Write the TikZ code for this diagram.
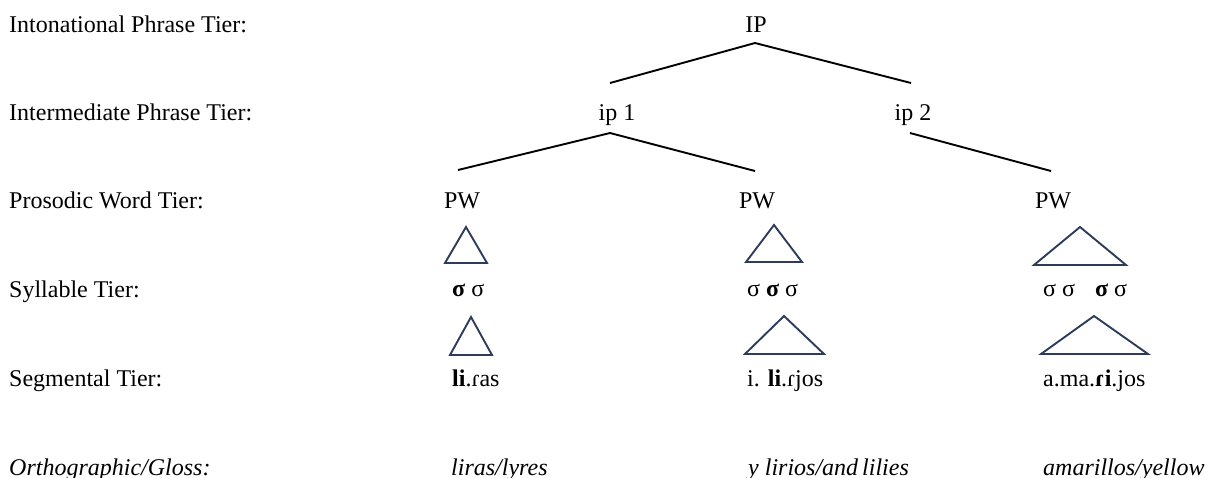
\documentclass[tikz,border=0pt]{standalone}
\usepackage{fontspec}
\setmainfont{Liberation Serif}
\begin{document}
\begin{tikzpicture}[x=1pt,y=-1pt,
  lbl/.style={anchor=base west,inner sep=0pt,font=\fontsize{24}{28}\selectfont},
  cat/.style={anchor=base,inner sep=0pt,font=\fontsize{24}{28}\selectfont},
  branch/.style={line width=1.9pt,black},
  tri/.style={line width=1.9pt,draw=trinavy,line join=miter}]
\definecolor{trinavy}{RGB}{44,60,90}
\useasboundingbox (0,0) rectangle (1209,477);

% tier labels
\node[lbl] (tIP)  at (9,32)  {Intonational Phrase Tier:};
\node[lbl] (tip)  at (9,120) {Intermediate Phrase Tier:};
\node[lbl] (tPW)  at (9,208) {Prosodic Word Tier:};
\node[lbl] (tsyl) at (9,297) {Syllable Tier:};
\node[lbl] (tseg) at (9,386) {Segmental Tier:};
\node[lbl] (tort) at (9,475) {\itshape Orthographic/Gloss:};

% prosodic tree
\node[cat] (IP)  at (756,32)  {IP};
\node[cat] (ip1) at (617,120) {ip 1};
\node[cat] (ip2) at (913,120) {ip 2};
\node[cat] (pw1) at (462,208) {PW};
\node[cat] (pw2) at (757,208) {PW};
\node[cat] (pw3) at (1053,208) {PW};

\draw[branch] ([xshift=-1pt,yshift=-11pt]IP.base) -- ([xshift=-7pt,yshift=37pt]ip1.base);
\draw[branch] ([xshift=-1pt,yshift=-11pt]IP.base) -- ([xshift=-2pt,yshift=37pt]ip2.base);
\draw[branch] ([xshift=-7pt,yshift=-13pt]ip1.base) -- ([xshift=-4pt,yshift=38pt]pw1.base);
\draw[branch] ([xshift=-7pt,yshift=-13pt]ip1.base) -- ([xshift=-2pt,yshift=37pt]pw2.base);
\draw[branch] ([xshift=-3pt,yshift=-13pt]ip2.base) -- ([xshift=-2pt,yshift=37pt]pw3.base);

% word-to-syllable triangles
\draw[tri] (466,227) -- (445,263) -- (487,263) -- cycle;
\draw[tri] (774,225) -- (746,262) -- (802,262) -- cycle;
\draw[tri] (1080,227) -- (1034,265) -- (1126,265) -- cycle;
% syllable-to-segment triangles
\draw[tri] (471,317) -- (450,355) -- (492,355) -- cycle;
\draw[tri] (784,316) -- (745,354) -- (824,354) -- cycle;
\draw[tri] (1094,316) -- (1041,354) -- (1148,354) -- cycle;

% syllables
\node[lbl] (syl1) at (452,296) {\textbf{σ} σ};
\node[lbl] (syl2) at (747,296) {σ \textbf{σ} σ};
\node[lbl] (syl3) at (1043,296) {σ σ\hspace{14pt} \textbf{σ} σ};

% segments
\node[lbl] (seg1) at (452,386) {\textbf{li}.ɾas};
\node[lbl] (seg2) at (747,386) {i. \textbf{li}.ɾjos};
\node[lbl] (seg3) at (1043,386) {a.ma.\textbf{ɾi}.jos};

% orthography and gloss
\node[lbl] (ort1) at (451,475) {\itshape liras/lyres};
\node[lbl] (ort2) at (748,475) {\itshape y lirios/and\,lilies};
\node[lbl] (ort3) at (1043,475) {\itshape amarillos/yellow};
\end{tikzpicture}
\end{document}
